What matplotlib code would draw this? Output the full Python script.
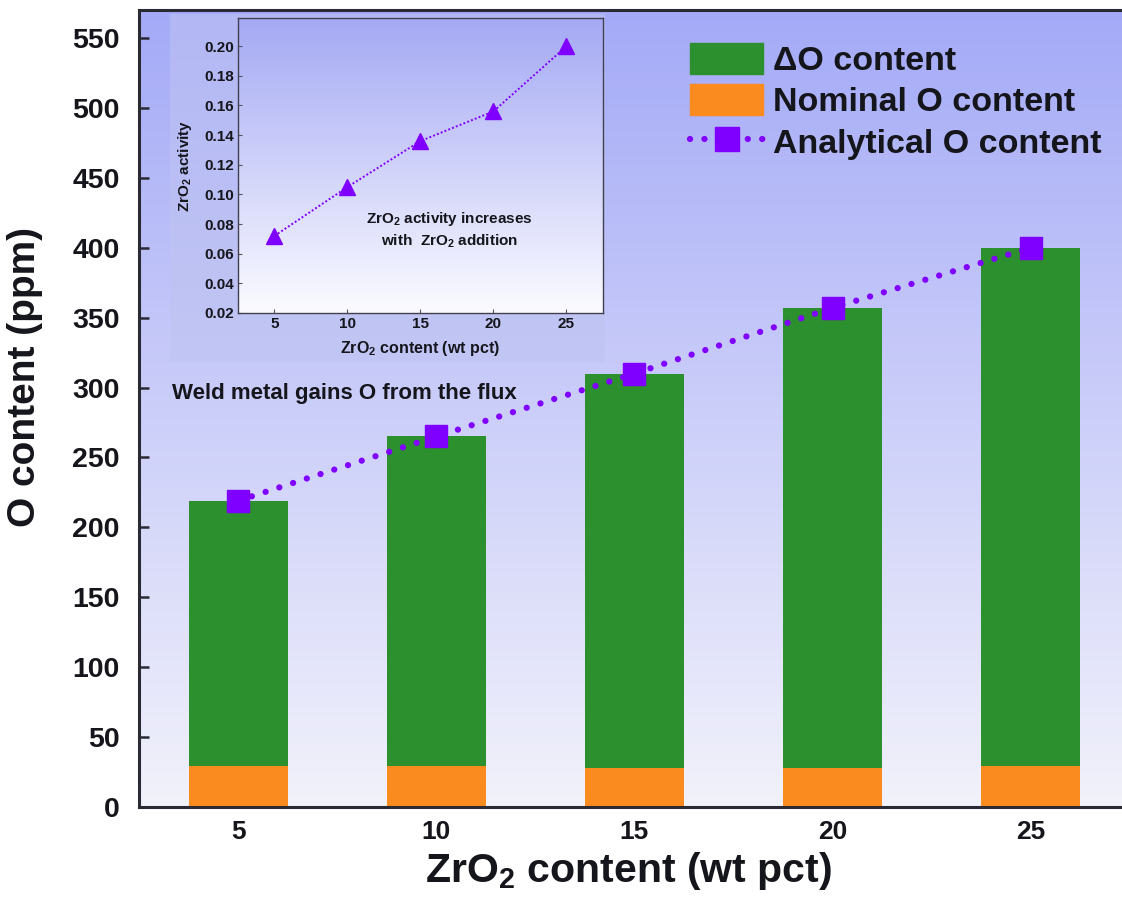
"""
O content of weld metal vs ZrO2 addition, with ZrO2 activity inset
"""

import numpy as np
import matplotlib
matplotlib.use('Agg')
import matplotlib.pyplot as plt
from matplotlib.colors import LinearSegmentedColormap
from matplotlib.lines import Line2D
from matplotlib.patches import Patch
from matplotlib.ticker import FormatStrFormatter

plt.rcParams['font.family'] = ['Liberation Sans', 'DejaVu Sans']
plt.rcParams['font.weight'] = 'bold'
plt.rcParams['axes.labelweight'] = 'bold'
plt.rcParams['mathtext.fontset'] = 'custom'
plt.rcParams['mathtext.default'] = 'regular'
plt.rcParams['mathtext.rm'] = 'Liberation Sans:bold'

# data
zro2 = [5, 10, 15, 20, 25]
nominal_o = [29, 29, 28, 28, 29]
analytical_o = [219, 265, 310, 357, 400]
delta_o = [a - n for a, n in zip(analytical_o, nominal_o)]
activity = [0.072, 0.105, 0.136, 0.156, 0.200]

green = '#2c902f'
orange = '#fa8b1e'
purple = '#8000ff'
spine_col = '#2a2a35'
text_col = '#15151c'

fig = plt.figure(figsize=(11.22, 9.09), dpi=100)
fig.patch.set_facecolor('white')

# main axes (right edge runs just past the picture, as in the original)
ax = fig.add_axes([0.1239, 0.1122, 0.8832, 0.8768])
xlim = (2.5, 27.5)
ylim = (0, 570)
bg = LinearSegmentedColormap.from_list('bg', ['#f2f2fb', '#a4aaf7'])
grad = np.linspace(0, 1, 256).reshape(-1, 1)
ax.imshow(grad, extent=[*xlim, *ylim], origin='lower', aspect='auto', cmap=bg, zorder=0)

ax.bar(zro2, nominal_o, width=2.5, color=orange, zorder=2)
ax.bar(zro2, delta_o, width=2.5, bottom=nominal_o, color=green, zorder=2)
dots = dict(color=purple, lw=4.5, ls=(0, (0.01, 2.3)), dash_capstyle='round')
ax.plot(zro2, analytical_o, marker='s', ms=16, zorder=3, **dots)

ax.set_xlim(*xlim)
ax.set_ylim(*ylim)
ax.set_xticks(zro2)
ax.set_yticks(np.arange(0, 551, 50))
ax.tick_params(direction='in', length=7, width=1.8, color=spine_col, labelcolor=text_col)
ax.tick_params(axis='y', labelsize=20.5, pad=14)
ax.tick_params(axis='x', labelsize=19, pad=9)
for side in ['left', 'bottom', 'top']:
    ax.spines[side].set_linewidth(2.2)
    ax.spines[side].set_color(spine_col)
ax.spines['right'].set_visible(False)

ax.set_ylabel('O content (ppm)', fontsize=28, color=text_col)
ax.yaxis.set_label_coords(-0.097, 0.54)
ax.set_xlabel('ZrO$_2$ content (wt pct)', fontsize=29.5, color=text_col)
ax.xaxis.set_label_coords(0.494, -0.054)

ax.text(3.33, 296, 'Weld metal gains O from the flux', fontsize=16,
        va='center', color=text_col)

handles = [Patch(color=green), Patch(color=orange),
           Line2D([], [], marker='s', ms=17, **dots)]
labels = ['ΔO content', 'Nominal O content', 'Analytical O content']
fig.legend(handles, labels, loc='upper left', bbox_to_anchor=(0.615, 0.953),
           frameon=False, fontsize=24.5, handlelength=2.15, handleheight=1.05,
           handletextpad=0.3, labelspacing=0.2, borderpad=0, borderaxespad=0,
           labelcolor=text_col)

# lighter panel behind the inset
panel = fig.add_axes([0.1515, 0.6018, 0.3877, 0.3828])
pan_cmap = LinearSegmentedColormap.from_list('pan', ['#c2c6f3', '#b3b8f5'])
panel.imshow(grad, extent=[0, 1, 0, 1], origin='lower', aspect='auto', cmap=pan_cmap)
panel.axis('off')

# inset
ins = fig.add_axes([0.2121, 0.6557, 0.3253, 0.3245])
ins_cmap = LinearSegmentedColormap.from_list('ins', ['#fbfbff', '#a4a9f4'])
ins_xlim = (2.5, 27.5)
ins_ylim = (0.02, 0.219)
ins.imshow(grad, extent=[*ins_xlim, *ins_ylim], origin='lower', aspect='auto',
           cmap=ins_cmap, zorder=0)
ins.plot(zro2, activity, color=purple, lw=1.4, ls=(0, (1, 1.1)), marker='^', ms=12, zorder=3)
ins.set_xlim(*ins_xlim)
ins.set_ylim(*ins_ylim)
ins.set_xticks(zro2)
ins.set_yticks(np.arange(0.02, 0.201, 0.02))
ins.yaxis.set_major_formatter(FormatStrFormatter('%.2f'))
ins.tick_params(direction='in', length=3, width=0.8, labelsize=11, pad=3,
                color='#555560', labelcolor=text_col)
for s in ins.spines.values():
    s.set_linewidth(1.0)
    s.set_color('#404050')
ins.set_xlabel('ZrO$_2$ content (wt pct)', fontsize=11.5, labelpad=6, color=text_col)
ins.set_ylabel('ZrO$_2$ activity', fontsize=11, labelpad=7, color=text_col)
ins.text(17.0, 0.076, 'ZrO$_2$ activity increases\nwith  ZrO$_2$ addition',
         fontsize=11, ha='center', va='center', linespacing=1.4, color=text_col)

fig.savefig('out.png', dpi=100)
